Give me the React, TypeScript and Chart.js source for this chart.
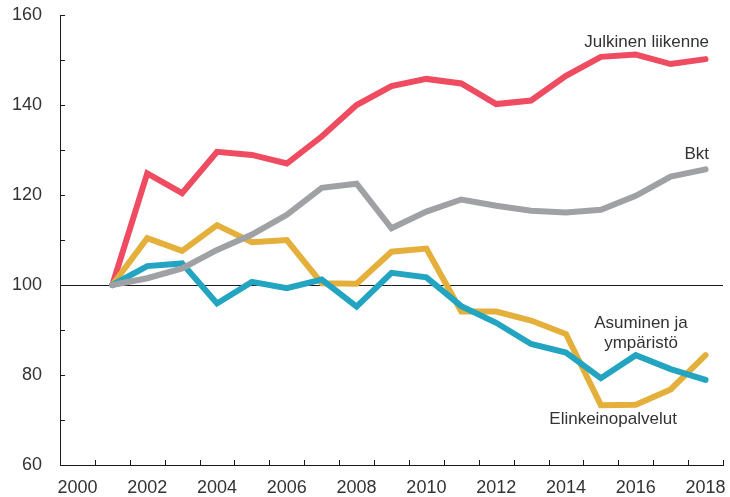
import React, { useEffect, useRef } from 'react';
import { Chart, registerables } from 'chart.js';

Chart.register(...registerables);

// ---- Data ----
const years = [2001, 2002, 2003, 2004, 2005, 2006, 2007, 2008, 2009, 2010, 2011, 2012, 2013, 2014, 2015, 2016, 2017, 2018];
const julkinenLiikenne = [100, 124.8, 120.4, 129.6, 128.9, 127.0, 133.0, 140.0, 144.2, 145.8, 144.8, 140.2, 141.0, 146.5, 150.7, 151.2, 149.1, 150.2];
const bkt = [100, 101.5, 103.7, 107.8, 111.2, 115.6, 121.6, 122.5, 112.6, 116.3, 119.0, 117.6, 116.5, 116.1, 116.7, 119.8, 124.1, 125.7];
const elinkeinopalvelut = [100, 110.4, 107.6, 113.3, 109.5, 110.0, 100.4, 100.3, 107.4, 108.1, 94.1, 94.1, 92.1, 89.1, 73.3, 73.4, 76.8, 84.4];
const asuminenJaYmparisto = [100, 104.2, 104.8, 95.9, 100.7, 99.3, 101.2, 95.2, 102.7, 101.7, 95.3, 91.6, 86.9, 85.0, 79.3, 84.4, 81.3, 78.9];

const xTickLabels = ['2000', '2002', '2004', '2006', '2008', '2010', '2012', '2014', '2016', '2018'];
const yTickValues = [60, 80, 100, 120, 140, 160];
const xMin = 2000;
const xMax = 2019;
const yMin = 60;
const yMax = 160;
const yMinorStep = 10;
const baselineValue = 100;

// series label annotations: [text, year, value, align]
const seriesLabels: [string, number, number, CanvasTextAlign][] = [
  ['Julkinen liikenne', 2018.6, 153.0, 'right'],
  ['Bkt', 2018.6, 128.0, 'right'],
  ['Asuminen ja', 2016.65, 90.4, 'center'],
  ['ympäristö', 2016.65, 85.95, 'center'],
  ['Elinkeinopalvelut', 2015.85, 69.2, 'center'],
];

const COLORS = {
  red: '#EF4B61',
  gray: '#9FA1A4',
  yellow: '#E5AF3C',
  teal: '#23A5C2',
  text: '#333333',
  axis: '#1a1a1a',
};

const FONT = "'Liberation Sans', Arial, sans-serif";

const toPoints = (vals: number[]) => vals.map((v, i) => ({ x: years[i] + 0.5, y: v }));

const decoPlugin = {
  id: 'deco',
  beforeDatasetsDraw(chart: any) {
    const { ctx, chartArea } = chart;
    const x = chart.scales.x;
    const y = chart.scales.y;
    ctx.save();
    ctx.strokeStyle = COLORS.axis;
    ctx.lineWidth = 1;
    // baseline at 100
    const yb = Math.round(y.getPixelForValue(baselineValue)) + 0.5;
    ctx.beginPath();
    ctx.moveTo(chartArea.left, yb);
    ctx.lineTo(chartArea.right, yb);
    ctx.stroke();
    // x tick marks at year boundaries
    ctx.beginPath();
    for (let yr = xMin + 1; yr <= xMax; yr++) {
      const px = Math.round(x.getPixelForValue(yr)) + 0.5;
      ctx.moveTo(px, chartArea.bottom);
      ctx.lineTo(px, chartArea.bottom - 5);
    }
    // y tick marks
    for (let v = yMin + yMinorStep; v <= yMax; v += yMinorStep) {
      const py = Math.round(y.getPixelForValue(v)) + 0.5;
      ctx.moveTo(chartArea.left, py);
      ctx.lineTo(chartArea.left + 5, py);
    }
    ctx.stroke();
    ctx.restore();
  },
  afterDatasetsDraw(chart: any) {
    const { ctx } = chart;
    const x = chart.scales.x;
    const y = chart.scales.y;
    ctx.save();
    ctx.fillStyle = COLORS.text;
    ctx.font = `17px ${FONT}`;
    ctx.textBaseline = 'alphabetic';
    for (const [text, xv, yv, align] of seriesLabels) {
      ctx.textAlign = align;
      ctx.fillText(text, x.getPixelForValue(xv), y.getPixelForValue(yv));
    }
    ctx.restore();
  },
};

export default function App() {
  const canvasRef = useRef<HTMLCanvasElement | null>(null);

  useEffect(() => {
    if (!canvasRef.current) return;
    const common = {
      borderWidth: 6,
      pointRadius: 0,
      pointHoverRadius: 0,
      tension: 0,
      borderCapStyle: 'round' as const,
      borderJoinStyle: 'miter' as const,
      fill: false,
    };
    const chart = new Chart(canvasRef.current, {
      type: 'line',
      data: {
        datasets: [
          { label: 'Bkt', data: toPoints(bkt), borderColor: COLORS.gray, order: 1, ...common },
          { label: 'Asuminen ja ympäristö', data: toPoints(asuminenJaYmparisto), borderColor: COLORS.teal, order: 2, ...common },
          { label: 'Elinkeinopalvelut', data: toPoints(elinkeinopalvelut), borderColor: COLORS.yellow, order: 3, ...common },
          { label: 'Julkinen liikenne', data: toPoints(julkinenLiikenne), borderColor: COLORS.red, order: 4, ...common },
        ],
      },
      options: {
        animation: false,
        responsive: false,
        events: [],
        layout: { padding: { top: 15, right: 7, left: 0, bottom: 0 } },
        plugins: {
          legend: { display: false },
          tooltip: { enabled: false },
        },
        scales: {
          x: {
            type: 'linear',
            min: xMin,
            max: xMax,
            grid: { display: false, drawTicks: false },
            border: { display: true, color: COLORS.axis, width: 1 },
            afterBuildTicks: (scale: any) => {
              scale.ticks = xTickLabels.map((l) => ({ value: Number(l) + 0.5 }));
            },
            afterFit: (scale: any) => {
              scale.height = 32;
              scale.paddingLeft = 0;
              scale.paddingRight = 0;
            },
            ticks: {
              autoSkip: false,
              maxRotation: 0,
              padding: 12,
              color: COLORS.text,
              font: { family: FONT, size: 18 },
              callback: (_v: any, i: number) => xTickLabels[i],
            },
          },
          y: {
            type: 'linear',
            min: yMin,
            max: yMax,
            grid: { display: false, drawTicks: false },
            border: { display: true, color: COLORS.axis, width: 1 },
            afterBuildTicks: (scale: any) => {
              scale.ticks = yTickValues.map((v) => ({ value: v }));
            },
            afterFit: (scale: any) => {
              scale.width = 60;
              scale.paddingTop = 0;
              scale.paddingBottom = 0;
            },
            ticks: {
              padding: 18,
              color: COLORS.text,
              font: { family: FONT, size: 18 },
              callback: (v: any) => String(v),
            },
          },
        },
      },
      plugins: [decoPlugin],
    });
    return () => chart.destroy();
  }, []);

  return (
    <div style={{ position: 'absolute', left: 0, top: 0, width: 730, height: 497, background: '#fff' }}>
      <canvas ref={canvasRef} width={730} height={497} style={{ display: 'block' }} />
    </div>
  );
}
